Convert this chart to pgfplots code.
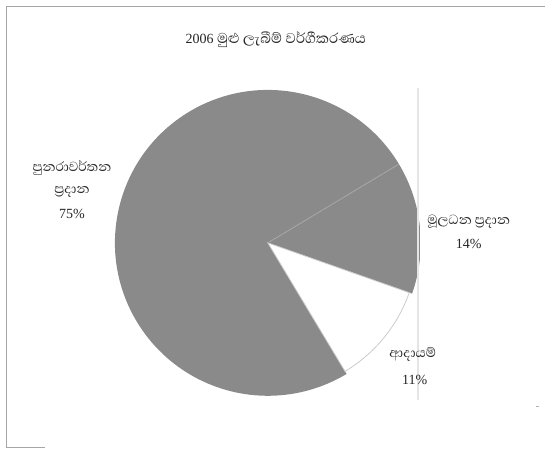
\documentclass[border=0pt]{standalone}
\usepackage{pgfplots}
\pgfplotsset{compat=1.18}
\usepackage{pgfplotstable}
\usepackage{fontspec}
\setmainfont{Liberation Serif}
\newfontfamily\sinhfont[Script=Sinhala, Scale=1.3]{Abhaya Libre}
\definecolor{piegray}{RGB}{138,138,138}
\pgfplotstableread{
slice pct
recurrent 75
capital 14
income 11
}\datatable
\begin{document}
\begin{tikzpicture}
\pgfplotstablegetelem{0}{pct}\of\datatable \let\pA\pgfplotsretval
\pgfplotstablegetelem{1}{pct}\of\datatable \let\pB\pgfplotsretval
\pgfplotstablegetelem{2}{pct}\of\datatable \let\pC\pgfplotsretval
\pgfmathsetmacro{\sA}{31}
\pgfmathsetmacro{\eA}{\sA+3.6*\pA}
\pgfmathsetmacro{\eC}{\eA+3.6*\pC}
\pgfmathsetmacro{\eB}{\eC+3.6*\pB}
\begin{axis}[x=1pt,y=1pt,xmin=0,xmax=545,ymin=0,ymax=450,
  scale only axis, hide axis, clip=false]
\path (axis cs:0,0) rectangle (axis cs:545,450);
% frame
\draw[gray!70, line width=0.6pt] (axis cs:6,2) -- (axis cs:6,444) -- (axis cs:545,444);
\draw[gray!70, line width=0.6pt] (axis cs:6,2) -- (axis cs:45,2);
\draw[gray!60, line width=0.5pt] (axis cs:536,44) -- (axis cs:539,44);
% pie
\begin{scope}
\clip (axis cs:115,54) rectangle (axis cs:420,360);
\fill[piegray] (axis cs:268,207) -- ++(\sA:153pt) arc[start angle=\sA,end angle=\eA,radius=153pt] -- cycle;
\fill[piegray] (axis cs:268,207) -- ++(\eC:153pt) arc[start angle=\eC,end angle=\eB,radius=153pt] -- cycle;
\filldraw[fill=white, draw=gray!40, line width=0.8pt] (axis cs:268,207) -- ++(\eA:150pt) arc[start angle=\eA,end angle=\eC,radius=150pt] -- cycle;
\draw[piegray!75!white, line width=0.8pt] (axis cs:268,207) -- ++(\sA:153pt);
\end{scope}
\draw[gray!20, line width=2pt] (axis cs:418,50) -- (axis cs:418,362);
% texts
\node[font=\fontsize{14}{16}\selectfont, text=black!85] at (axis cs:276,410) {2006 {\sinhfont මුළු ලැබීම් වර්ගීකරණය}};
\node[font=\fontsize{13}{15}\selectfont\sinhfont, text=black!85] at (axis cs:72,282) {පුනරාවර්තන};
\node[font=\fontsize{13}{15}\selectfont\sinhfont, text=black!85] at (axis cs:72,258) {ප්^^^^200dරදාන};
\node[font=\fontsize{14}{16}\selectfont, text=black!85] at (axis cs:72,236) {75\%};
\node[font=\fontsize{13}{15}\selectfont\sinhfont, text=black!85] at (axis cs:469,228) {මූලධන ප්^^^^200dරදාන};
\node[font=\fontsize{14}{16}\selectfont, text=black!85] at (axis cs:469,206) {14\%};
\node[font=\fontsize{13}{15}\selectfont\sinhfont, text=black!85] at (axis cs:413,95) {ආදායම්};
\node[font=\fontsize{14}{16}\selectfont, text=black!85] at (axis cs:415,70) {11\%};
\end{axis}
\end{tikzpicture}
\end{document}
